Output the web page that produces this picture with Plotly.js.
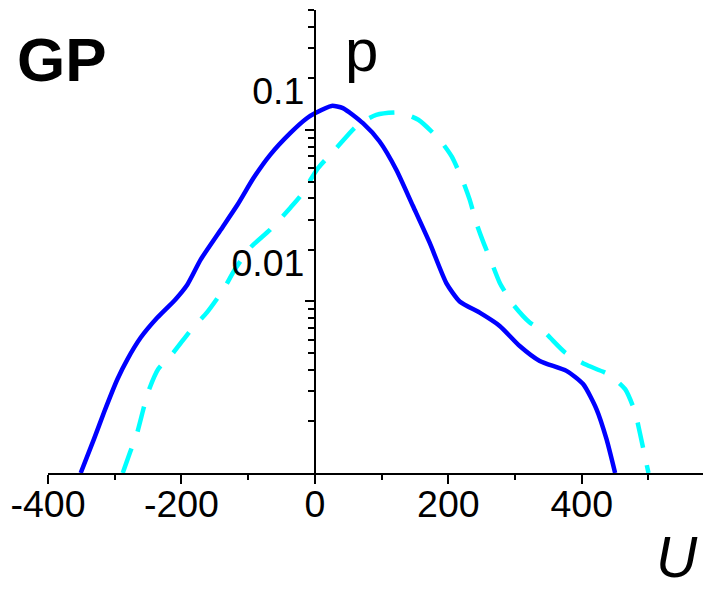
<!DOCTYPE html>
<html>
<head>
<meta charset="utf-8">
<script src="https://cdn.plot.ly/plotly-3.0.1.min.js"></script>
<style>
  html, body { margin: 0; padding: 0; background: #fff; }
  #chart { width: 703px; height: 593px; }
</style>
</head>
<body>
<div id="chart"></div>
<script>
// Probability density p(U) on a log scale, two series
const uSolid = [-351, -331, -316, -296, -281, -261, -236, -209, -191, -171, -141, -116, -92, -67, -37, -12, 0, 25, 42, 72, 97, 122, 147, 172, 197, 217, 247, 277, 307, 337, 377, 402, 422, 437, 450];
const pSolid = [0.0005, 0.00079, 0.00113, 0.00176, 0.0023, 0.00308, 0.00403, 0.00514, 0.00628, 0.00879, 0.0131, 0.0183, 0.0262, 0.0358, 0.0479, 0.0585, 0.0625, 0.069, 0.067, 0.0547, 0.0428, 0.0293, 0.018, 0.011, 0.0064, 0.0050, 0.0043, 0.0036, 0.00275, 0.00225, 0.00197, 0.00165, 0.00118, 0.00079, 0.0005];

const uDashed = [-288, -277, -267, -257, -250, -235, -212, -185, -162, -137, -120, -97, -67, -37, -22, 5, 30, 62, 92, 127, 155, 187, 205, 222, 232, 242, 252, 265, 277, 297, 322, 342, 375, 405, 440, 465, 480, 487, 500];
const pDashed = [0.0005, 0.00066, 0.00084, 0.00118, 0.00148, 0.00201, 0.00252, 0.00344, 0.0043, 0.00588, 0.00768, 0.01027, 0.0131, 0.01755, 0.0205, 0.0300, 0.0383, 0.0524, 0.0612, 0.0631, 0.0573, 0.0438, 0.035, 0.0251, 0.0196, 0.01435, 0.0112, 0.0084, 0.00643, 0.00481, 0.00377, 0.00337, 0.00252, 0.00215, 0.00188, 0.00154, 0.00113, 0.00086, 0.0005];

// Axis ticks
const xMajorTicks = [-400, -200, 0, 200, 400];
const xMinorTicks = [-300, -100, 100, 300, 500];
const yLabelTicks = [0.01, 0.1];
const yLabelText = ['0.01', '0.1'];
const yShortTicks = [0.001, 0.0015, 0.002, 0.0025, 0.003, 0.0035, 0.004, 0.0045,
                     0.015, 0.02, 0.025, 0.03, 0.035, 0.04, 0.045,
                     0.15, 0.2, 0.25];
const yLongTicks = [0.005, 0.05];

const xRange = [-400, 581.7];
const yRange = [Math.log10(0.0005), Math.log10(0.25)];
const yAxisPos = (0 - xRange[0]) / (xRange[1] - xRange[0]);

const FONT = 'Liberation Sans, Arial, Helvetica, sans-serif';
const TICK_SIZE = 37.5;

const traces = [
  {
    x: uSolid, y: pSolid, type: 'scatter', mode: 'lines',
    line: { color: '#0000ff', width: 4.5, shape: 'spline', smoothing: 0.6 },
    hoverinfo: 'skip', showlegend: false
  },
  {
    x: uDashed, y: pDashed, type: 'scatter', mode: 'lines',
    line: { color: '#00ffff', width: 4.5, dash: '26px,18px', shape: 'spline', smoothing: 0.6 },
    hoverinfo: 'skip', showlegend: false
  },
  {
    // carries the second tick set on yaxis2
    x: [null], y: [null], yaxis: 'y2', type: 'scatter', mode: 'lines',
    hoverinfo: 'skip', showlegend: false
  }
];

const layout = {
  width: 703, height: 593,
  margin: { l: 48, r: 0, t: 10, b: 120 },
  paper_bgcolor: '#ffffff', plot_bgcolor: '#ffffff',
  font: { family: FONT, size: TICK_SIZE, color: '#000' },
  xaxis: {
    range: xRange, showgrid: false, zeroline: false,
    showline: true, linecolor: '#000', linewidth: 2,
    ticks: 'outside', tickmode: 'array', tickvals: xMajorTicks,
    ticktext: xMajorTicks.map(String),
    ticklen: 9, tickwidth: 2, tickcolor: '#000',
    tickfont: { family: FONT, size: TICK_SIZE, color: '#000' },
    ticklabelstandoff: -12,
    minor: { tickmode: 'array', tickvals: xMinorTicks, ticks: 'outside', ticklen: 5, tickwidth: 2, tickcolor: '#000', showgrid: false },
    layer: 'above traces'
  },
  yaxis: {
    type: 'log', range: yRange, anchor: 'free', position: yAxisPos,
    showgrid: false, zeroline: false,
    showline: true, linecolor: '#000', linewidth: 2,
    ticks: 'outside', tickmode: 'array', tickvals: yLabelTicks, ticktext: yLabelText,
    ticklen: 6, tickwidth: 2, tickcolor: '#000',
    tickfont: { family: FONT, size: TICK_SIZE, color: '#000' },
    ticklabelshift: 13,
    ticklabelstandoff: -4,
    minor: { tickmode: 'array', tickvals: yShortTicks, ticks: 'outside', ticklen: 6, tickwidth: 2, tickcolor: '#000', showgrid: false },
    layer: 'above traces'
  },
  yaxis2: {
    type: 'log', range: yRange, overlaying: 'y', anchor: 'free', position: yAxisPos,
    showgrid: false, zeroline: false, showline: false, showticklabels: false,
    ticks: 'outside', tickmode: 'array', tickvals: yLongTicks,
    ticklen: 10, tickwidth: 2, tickcolor: '#000'
  },
  annotations: [
    { text: '<b>GP</b>', xref: 'paper', yref: 'paper', x: (15 - 48) / 655, y: 1 - (60 - 10) / 463,
      xanchor: 'left', yanchor: 'middle', showarrow: false,
      font: { family: FONT, size: 62, color: '#000' } },
    { text: 'p', xref: 'paper', yref: 'paper', x: (343 - 48) / 655, y: 1 - (51 - 10) / 463,
      xanchor: 'left', yanchor: 'middle', showarrow: false,
      font: { family: FONT, size: 60, color: '#000' } },
    { text: '<i>U</i>', xref: 'paper', yref: 'paper', x: (654 - 48) / 655, y: 1 - (557 - 10) / 463,
      xanchor: 'left', yanchor: 'middle', showarrow: false,
      font: { family: FONT, size: 57, color: '#000' } }
  ]
};

Plotly.newPlot('chart', traces, layout, { staticPlot: true, displayModeBar: false });
</script>
</body>
</html>
